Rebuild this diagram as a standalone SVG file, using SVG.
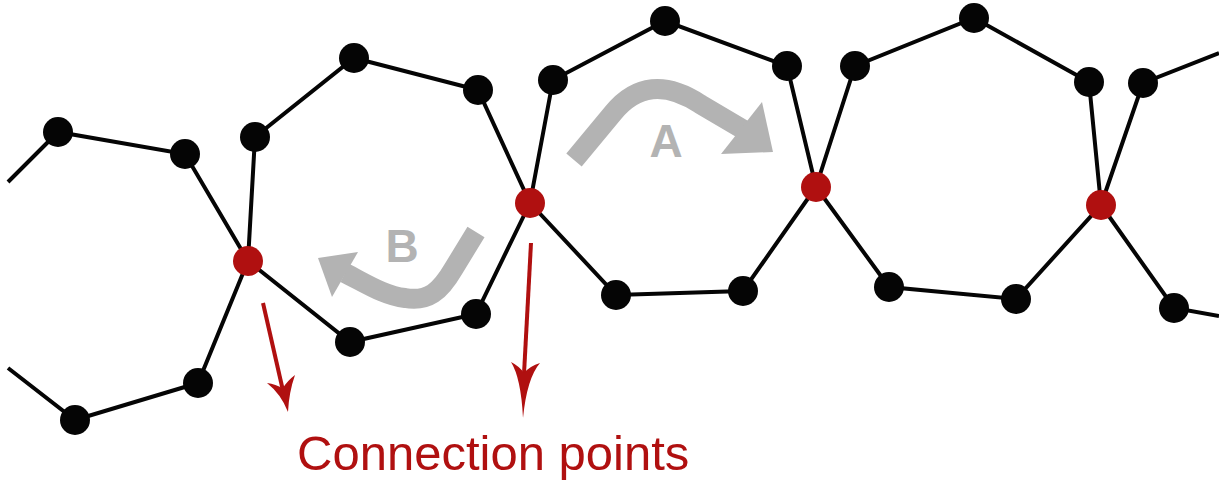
<svg xmlns="http://www.w3.org/2000/svg" width="1219" height="481" viewBox="0 0 1219 481">
<style>
.e{stroke:#050505;stroke-width:4;fill:none}
.n{fill:#050505}
.c{fill:#b01010}
.g{stroke:#b3b3b3;stroke-width:20;fill:none}
.gh{fill:#b3b3b3}
.gl{font-family:"Liberation Sans",Arial,sans-serif;font-weight:bold;font-size:46px;fill:#b3b3b3;text-anchor:middle}
.r{stroke:#b01010;stroke-width:4;fill:none}
.rh{fill:#b01010}
.t{font-family:"Liberation Sans",Arial,sans-serif;font-size:49px;fill:#b01010}
</style>
<rect width="1219" height="481" fill="#fff"/>
<g id="connectors">
<polyline class="e" points="8,182 58,132 185,154 248,261 198,383 75,420 8,368"/>
<polyline class="e" points="248,261 255,137 354,58 478,90 530,203 476,314 350,342 248,261"/>
<polyline class="e" points="530,203 553,80 665,21 787,66 816,187 743,291 616,295 530,203"/>
<polyline class="e" points="816,187 855,66 974,18 1089,82 1101,205 1016,299 889,287 816,187"/>
<polyline class="e" points="1101,205 1143,83 1219,53"/>
<polyline class="e" points="1101,205 1174,308 1219,316"/>
</g>
<g id="n1"><circle class="n" cx="58" cy="132" r="15"/></g>
<g id="n2"><circle class="n" cx="185" cy="154" r="15"/></g>
<g id="n3"><circle class="n" cx="198" cy="383" r="15"/></g>
<g id="n4"><circle class="n" cx="75" cy="420" r="15"/></g>
<g id="n5"><circle class="n" cx="255" cy="137" r="15"/></g>
<g id="n6"><circle class="n" cx="354" cy="58" r="15"/></g>
<g id="n7"><circle class="n" cx="478" cy="90" r="15"/></g>
<g id="n8"><circle class="n" cx="476" cy="314" r="15"/></g>
<g id="n9"><circle class="n" cx="350" cy="342" r="15"/></g>
<g id="n10"><circle class="n" cx="553" cy="80" r="15"/></g>
<g id="n11"><circle class="n" cx="665" cy="21" r="15"/></g>
<g id="n12"><circle class="n" cx="787" cy="66" r="15"/></g>
<g id="n13"><circle class="n" cx="743" cy="291" r="15"/></g>
<g id="n14"><circle class="n" cx="616" cy="295" r="15"/></g>
<g id="n15"><circle class="n" cx="855" cy="66" r="15"/></g>
<g id="n16"><circle class="n" cx="974" cy="18" r="15"/></g>
<g id="n17"><circle class="n" cx="1089" cy="82" r="15"/></g>
<g id="n18"><circle class="n" cx="1016" cy="299" r="15"/></g>
<g id="n19"><circle class="n" cx="889" cy="287" r="15"/></g>
<g id="n20"><circle class="n" cx="1143" cy="83" r="15"/></g>
<g id="n21"><circle class="n" cx="1174" cy="308" r="15"/></g>
<g id="c1"><circle class="c" cx="248" cy="261" r="15"/></g>
<g id="c2"><circle class="c" cx="530" cy="203" r="15"/></g>
<g id="c3"><circle class="c" cx="816" cy="187" r="15"/></g>
<g id="c4"><circle class="c" cx="1101" cy="205" r="15"/></g>
<g id="arrowA">
<path class="g" d="M574,160 L613,113 Q648,70 700,104 L744,130"/>
<polygon class="gh" points="773,152 762,102 721,154"/>
<text class="gl" x="666" y="157">A</text>
</g>
<g id="arrowB">
<path class="g" stroke-width="19" d="M476,232 L454,268 C440,292 428,302 405,298 C385,296 365,283 345,273"/>
<polygon class="gh" points="318,258 358,252 332,297"/>
<text class="gl" x="402" y="262">B</text>
</g>
<g id="label">
<line class="r" x1="263" y1="303" x2="282.6" y2="389"/>
<path class="rh" d="M288,412 Q281,394 267,383 Q276,384 282.6,388.6 Q287,381 295,375 Q289,392 288,412 Z"/>
<line class="r" x1="531" y1="243" x2="524" y2="374"/>
<path class="rh" d="M523,418 Q521,378 511,362 Q519,366 524,373 Q530,366 540,363 Q527,378 523,418 Z"/>
<text class="t" x="297" y="470">Connection points</text>
</g>
</svg>
